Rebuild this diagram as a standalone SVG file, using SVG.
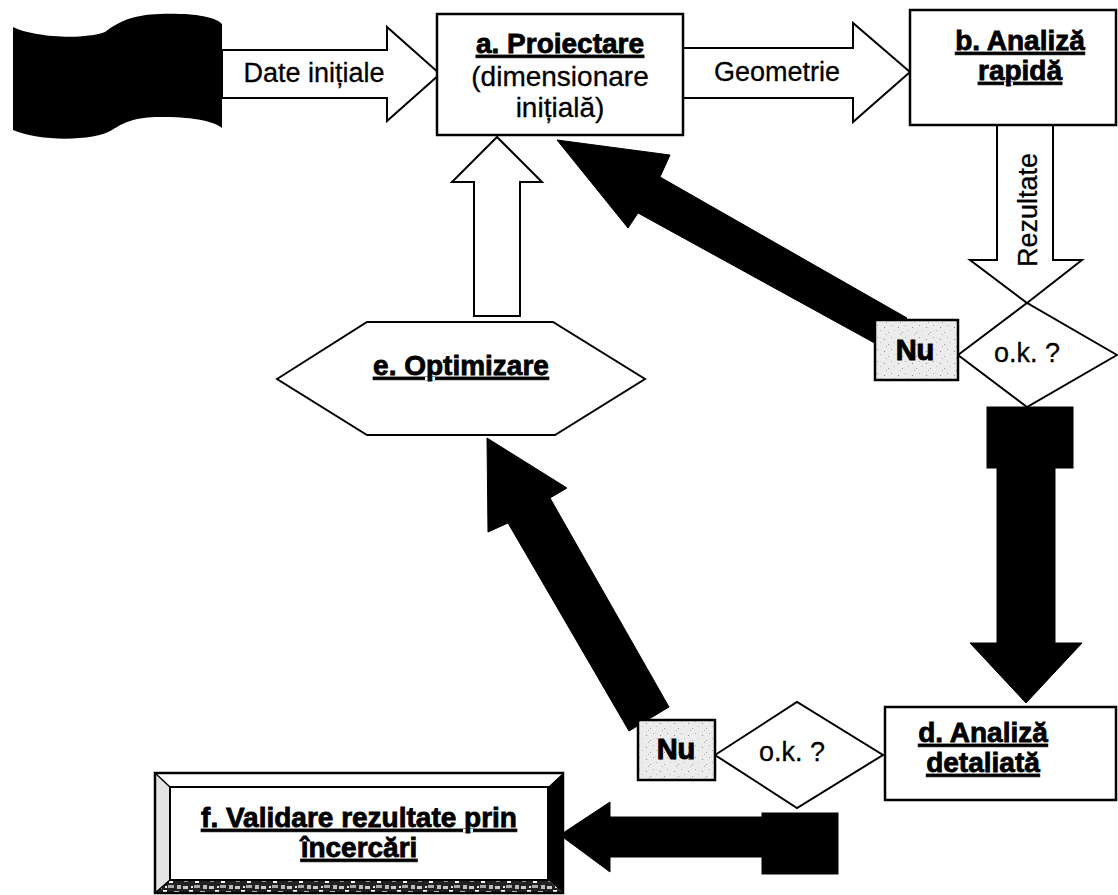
<svg xmlns="http://www.w3.org/2000/svg" width="1118" height="895" viewBox="0 0 1118 895">
  <style>
    text { font-family: "Liberation Sans", Arial, sans-serif; fill: #000; }
    .lbl { font-size: 27px; text-anchor: middle; stroke: #000; stroke-width: 0.3; }
    .ttl { font-size: 28px; font-weight: bold; text-anchor: middle; text-decoration: underline; stroke: #000; stroke-width: 0.8; }
    .nu { font-size: 29px; font-weight: bold; text-anchor: middle; stroke: #000; stroke-width: 1; }
    .box { fill: #fff; stroke: #000; stroke-width: 2.5; }
    .hollow { fill: #fff; stroke: #000; stroke-width: 2; stroke-linejoin: miter; }
    .solid { fill: #000; stroke: #000; stroke-width: 1; }
    .tag { fill: url(#stipple); stroke: #000; stroke-width: 2.5; }
  </style>
  <defs>
    <!-- light speckled grey used by the "Nu" labels -->
    <pattern id="stipple" width="14" height="12" patternUnits="userSpaceOnUse">
      <rect width="14" height="12" fill="#ececec"/>
      <rect x="2" y="3" width="1" height="1" fill="#888"/>
      <rect x="9" y="1" width="1" height="1" fill="#aaa"/>
      <rect x="6" y="8" width="1" height="1" fill="#999"/>
      <rect x="12" y="6" width="1" height="1" fill="#bbb"/>
      <rect x="4" y="10" width="1" height="1" fill="#aaa"/>
    </pattern>
    <!-- granite texture for the lower bevel of box f -->
    <pattern id="granite" width="26" height="13" patternUnits="userSpaceOnUse">
      <rect width="26" height="13" fill="#222"/>
      <rect x="1" y="2" width="5" height="3" fill="#ccc"/>
      <rect x="7" y="6" width="4" height="3" fill="#fff"/>
      <rect x="12" y="1" width="6" height="3" fill="#aaa"/>
      <rect x="18" y="7" width="5" height="3" fill="#eee"/>
      <rect x="2" y="8" width="4" height="3" fill="#999"/>
      <rect x="13" y="9" width="4" height="3" fill="#fff"/>
      <rect x="21" y="1" width="4" height="4" fill="#bbb"/>
      <rect x="9" y="2" width="2" height="2" fill="#eee"/>
    </pattern>
  </defs>

  <!-- connectors -->
  <g id="connectors">
    <!-- input data -> a -->
    <polygon class="hollow" points="222,50 387,50 387,27 440,74 387,121 387,98 222,98"/>
    <text class="lbl" x="314" y="82">Date inițiale</text>
    <!-- a -> b -->
    <polygon class="hollow" points="683,48 853,48 853,23 910,72 853,122 853,98 683,98"/>
    <text class="lbl" x="777" y="81">Geometrie</text>
    <!-- b -> check 1 -->
    <polygon class="hollow" points="997,125 1053,125 1053,260 1082,260 1027,303 970,260 997,260"/>
    <text class="lbl" transform="translate(1037,210) rotate(-90)">Rezultate</text>
    <!-- e -> a -->
    <polygon class="hollow" points="474,316 474,182 452,182 497,137 542,182 520,182 520,316"/>
    <!-- check 1 "Nu" -> a -->
    <polygon class="solid" points="557,140 670,155 660,177 907,318 880,346 638,213 628,228"/>
    <!-- check 1 ok -> d -->
    <rect class="solid" x="987" y="407" width="86" height="61"/>
    <polygon class="solid" points="997,468 1055,468 1055,643 1082,643 1026,703 970,643 997,643"/>
    <!-- check 2 "Nu" -> e -->
    <polygon class="solid" points="487,438 567,488 550,498 669,707 629,731 508,523 488,532"/>
    <!-- check 2 ok -> f -->
    <rect class="solid" x="762" y="813" width="76" height="61"/>
    <polygon class="solid" points="762,817 610,817 610,802 560,835 610,872 610,857 762,857"/>
  </g>

  <!-- input data (punched tape) -->
  <g id="input">
    <path fill="#000" d="M13,27 C30,36 80,41 105,32 C120,21 132,15 160,14 C190,13 215,16 222,24 L222,128 C212,120 190,117 160,117 C135,117 125,122 112,130 C95,141 40,142 13,130 Z"/>
  </g>

  <!-- a. design -->
  <g id="node-a">
    <rect class="box" x="437" y="14" width="246" height="121"/>
    <text class="ttl" x="560" y="53">a. Proiectare</text>
    <text class="lbl" x="560" y="86" style="font-size:28px">(dimensionare</text>
    <text class="lbl" x="560" y="117" style="font-size:28px">inițială)</text>
  </g>

  <!-- b. quick analysis -->
  <g id="node-b">
    <rect class="box" x="910" y="10" width="206" height="115"/>
    <text class="ttl" x="1020" y="50">b. Analiză</text>
    <text class="ttl" x="1020" y="80">rapidă</text>
  </g>

  <!-- check 1 -->
  <g id="check-1">
    <polygon class="hollow" points="958,355 1027,303 1117,355 1027,407"/>
    <text class="lbl" x="1027" y="362">o.k. ?</text>
  </g>
  <g id="no-1">
    <rect class="tag" x="875" y="320" width="83" height="60"/>
    <text class="nu" x="915" y="360">Nu</text>
  </g>

  <!-- e. optimisation -->
  <g id="node-e">
    <polygon class="hollow" points="277,379 367,322 553,322 645,379 555,435 367,435"/>
    <text class="ttl" x="461" y="375">e. Optimizare</text>
  </g>

  <!-- d. detailed analysis -->
  <g id="node-d">
    <rect class="box" x="885" y="707" width="231" height="93"/>
    <text class="ttl" x="983" y="742">d. Analiză</text>
    <text class="ttl" x="983" y="772">detaliată</text>
  </g>

  <!-- check 2 -->
  <g id="check-2">
    <polygon class="hollow" points="715,755 797,702 883,755 797,808"/>
    <text class="lbl" x="792" y="761">o.k. ?</text>
  </g>
  <g id="no-2">
    <rect class="tag" x="638" y="720" width="77" height="60"/>
    <text class="nu" x="676" y="759">Nu</text>
  </g>

  <!-- f. validation by testing (bevelled box) -->
  <g id="node-f">
    <polygon fill="#fff" points="155,773 563,773 548,787 170,787"/>
    <polygon fill="#e4e4e4" points="155,773 170,787 170,880 155,893"/>
    <polygon fill="#000" points="563,773 563,893 548,880 548,787"/>
    <polygon fill="url(#granite)" points="155,893 563,893 548,880 170,880"/>
    <rect x="170" y="787" width="378" height="93" fill="#fff" stroke="#000" stroke-width="2"/>
    <line x1="155" y1="773" x2="170" y2="787" stroke="#000" stroke-width="1.5"/>
    <line x1="155" y1="893" x2="170" y2="880" stroke="#000" stroke-width="1.5"/>
    <rect x="155" y="773" width="408" height="120" fill="none" stroke="#000" stroke-width="2.5"/>
    <text class="ttl" x="359" y="827">f. Validare rezultate prin</text>
    <text class="ttl" x="359" y="857">încercări</text>
  </g>
</svg>
